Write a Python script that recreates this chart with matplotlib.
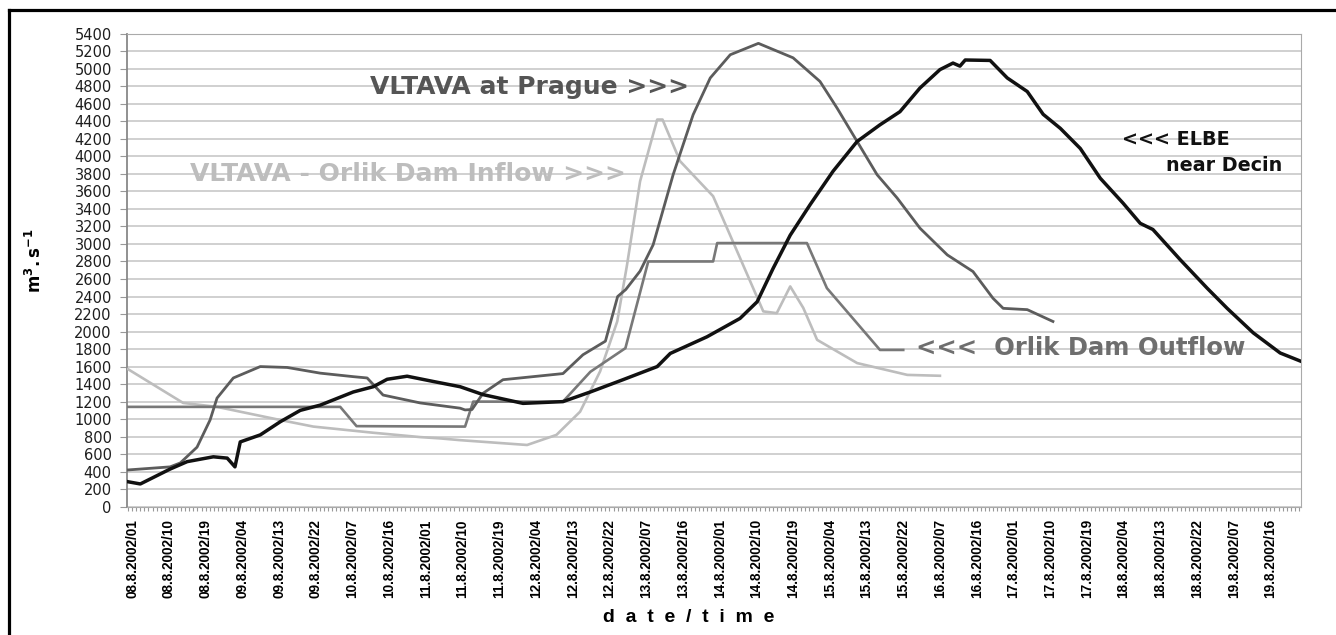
import matplotlib
matplotlib.use('Agg')
import matplotlib.pyplot as plt
from matplotlib import font_manager
from matplotlib.ticker import MultipleLocator

# hours counted from 08.8.2002 00:00
elbe_h = [0, 3, 10.3, 14.5, 20.9, 24.3, 26.2, 27.5, 32.4, 37.3, 42.2, 47.1, 55.2, 60.1,
          63.5, 68.4, 74.8, 81.4, 87.0, 96.8, 106.6, 113.3, 121.3, 129.7, 132.9, 141.9,
          150.0, 154.2, 158.1, 162.3, 167.2, 172.8, 178.7, 184.3, 189.2, 194.1, 199.0,
          202.2, 203.9, 205.2, 211.3, 215.5, 220.4, 224.3, 228.5, 233.4, 238.3, 243.9,
          248.1, 251.2, 257.9, 264.5, 269.4, 275.8, 282.4, 287.5]
elbe_q = [285, 260, 430, 515, 570, 555, 455, 740, 820, 970, 1100, 1160, 1310, 1370,
          1455, 1490, 1430, 1370, 1280, 1180, 1200, 1310, 1450, 1600, 1750, 1940,
          2150, 2340, 2720, 3100, 3450, 3830, 4170, 4360, 4510, 4780, 4990,
          5065, 5030, 5100, 5095, 4895, 4740, 4480, 4320, 4090, 3750, 3465,
          3235, 3165, 2820, 2495, 2265, 1985, 1755, 1660]

prague_h = [0, 10.3, 12.8, 16.9, 20.1, 21.8, 25.8, 32.4, 39.0, 47.1, 55.2, 58.6, 62.5,
            71.6, 81.4, 82.6, 84.3, 87.0, 91.9, 106.6, 111.5, 117.0, 120.0, 122.0, 125.5,
            128.7, 133.6, 138.5, 142.7, 147.6, 154.5, 163.0, 169.6, 173.8, 178.7, 183.6,
            188.5, 194.1, 200.8, 207.1, 212.0, 214.5, 220.4, 226.7]
prague_q = [420, 455, 500, 680, 990, 1240, 1470, 1600, 1590, 1525, 1485, 1470, 1275,
            1185, 1125, 1105, 1110, 1295, 1450, 1520, 1735, 1890, 2400, 2480, 2690,
            2990, 3790, 4475, 4895, 5160, 5290, 5125, 4855, 4550, 4170, 3790,
            3525, 3180, 2875, 2685, 2380, 2265, 2250, 2115]

outflow_h = [0, 52, 56, 82.6, 84.6, 106.6, 113.3, 121.9, 127.5, 143.4, 144.4, 166.4,
             171.3, 184.3, 190]
outflow_q = [1140, 1140, 920, 915, 1200, 1200, 1540, 1810, 2800, 2800, 3010, 3010,
             2495, 1790, 1790]

inflow_h = [0, 13.5, 21.8, 37.3, 45.4, 60, 71.6, 76.5, 81.4, 97.8, 105, 110.8, 115.7,
            119.9, 122.3, 125.5, 129.7, 131, 135.3, 143.4, 150, 155.7, 159, 162.3,
            165.5, 168.9, 178.7, 191, 199]
inflow_q = [1570, 1185, 1140, 990, 915, 845, 795, 780, 760, 705, 820, 1085, 1545,
            2115, 2760, 3715, 4420, 4420, 3945, 3545, 2840, 2230, 2210, 2515,
            2270, 1905, 1640, 1505, 1495]

tick_hours = list(range(1, 281, 9))
tick_labels = ['08.8.2002/01', '08.8.2002/10', '08.8.2002/19', '09.8.2002/04',
               '09.8.2002/13', '09.8.2002/22', '10.8.2002/07', '10.8.2002/16',
               '11.8.2002/01', '11.8.2002/10', '11.8.2002/19', '12.8.2002/04',
               '12.8.2002/13', '12.8.2002/22', '13.8.2002/07', '13.8.2002/16',
               '14.8.2002/01', '14.8.2002/10', '14.8.2002/19', '15.8.2002/04',
               '15.8.2002/13', '15.8.2002/22', '16.8.2002/07', '16.8.2002/16',
               '17.8.2002/01', '17.8.2002/10', '17.8.2002/19', '18.8.2002/04',
               '18.8.2002/13', '18.8.2002/22', '19.8.2002/07', '19.8.2002/16']

installed = {f.name for f in font_manager.fontManager.ttflist}
if 'Liberation Sans Narrow' in installed:
    xfont, xsize = 'Liberation Sans Narrow', 11.8
else:
    xfont, xsize = 'Liberation Sans', 9.8

fig = plt.figure(figsize=(13.36, 6.35), dpi=100)
ax = fig.add_axes([0.0951, 0.2020, 0.8787, 0.7449])

ax.plot(inflow_h, inflow_q, color='#bdbdbd', lw=1.9, zorder=3)
ax.plot(outflow_h, outflow_q, color='#787878', lw=1.9, zorder=4)
ax.plot(prague_h, prague_q, color='#5c5c5c', lw=2.0, zorder=5)
ax.plot(elbe_h, elbe_q, color='#111111', lw=2.5, zorder=6)

ax.set_xlim(-0.25, 287.5)
ax.set_ylim(0, 5400)
ax.yaxis.set_major_locator(MultipleLocator(200))
ax.grid(axis='y', color='#c4c4c4', lw=1.1)
ax.set_axisbelow(True)

ax.set_xticks(tick_hours)
ax.set_xticklabels(tick_labels, rotation=90, family=xfont, fontsize=xsize,
                   fontweight='bold')
ax.xaxis.set_minor_locator(MultipleLocator(1))
ax.tick_params(axis='x', which='both', length=3, width=0.8, color='#999999', pad=6)
ax.tick_params(axis='y', length=5, width=0.8, color='#999999', pad=6,
               labelsize=10.5, labelcolor='#1e1e1e')
for lab in ax.get_yticklabels():
    lab.set_family('DejaVu Sans')

for side in ['top', 'right', 'bottom']:
    ax.spines[side].set_color('#aaaaaa')
ax.spines['left'].set_color('#888888')
ax.spines['left'].set_linewidth(1.3)

ax.set_ylabel(r'$\mathbf{m^{3}.s^{-1}}$', fontsize=12, labelpad=4)
ax.yaxis.set_label_coords(-0.070, 0.52)
fig.text(0.5157, 0.028, 'd  a  t  e  /  t  i  m  e', ha='center', va='center',
         family='Liberation Sans', fontsize=14, fontweight='bold')

# series labels
ax.text(98.5, 4711, 'VLTAVA at Prague >>>', ha='center', va='baseline',
        fontsize=18, fontweight='bold', color='#555555')
ax.text(68.5, 3720, 'VLTAVA - Orlik Dam Inflow >>>', ha='center', va='baseline',
        fontsize=18, fontweight='bold', color='#bdbdbd')
ax.text(233.4, 1732, '<<<  Orlik Dam Outflow', ha='center', va='baseline',
        fontsize=17.5, fontweight='bold', color='#6e6e6e')
ax.text(270.1, 4127, '<<< ELBE', ha='right', va='baseline',
        fontsize=13.8, fontweight='bold', color='#111111')
ax.text(282.9, 3830, 'near Decin', ha='right', va='baseline',
        fontsize=13.8, fontweight='bold', color='#111111')

# frame of the original picture (left and top edges only)
fig.add_artist(plt.Line2D([0.0071, 0.0071], [0, 0.9835], color='black', lw=2.3,
                          transform=fig.transFigure))
fig.add_artist(plt.Line2D([0.0071, 1.0], [0.9835, 0.9835], color='black', lw=2.3,
                          transform=fig.transFigure))

fig.savefig('out.png', dpi=100)
